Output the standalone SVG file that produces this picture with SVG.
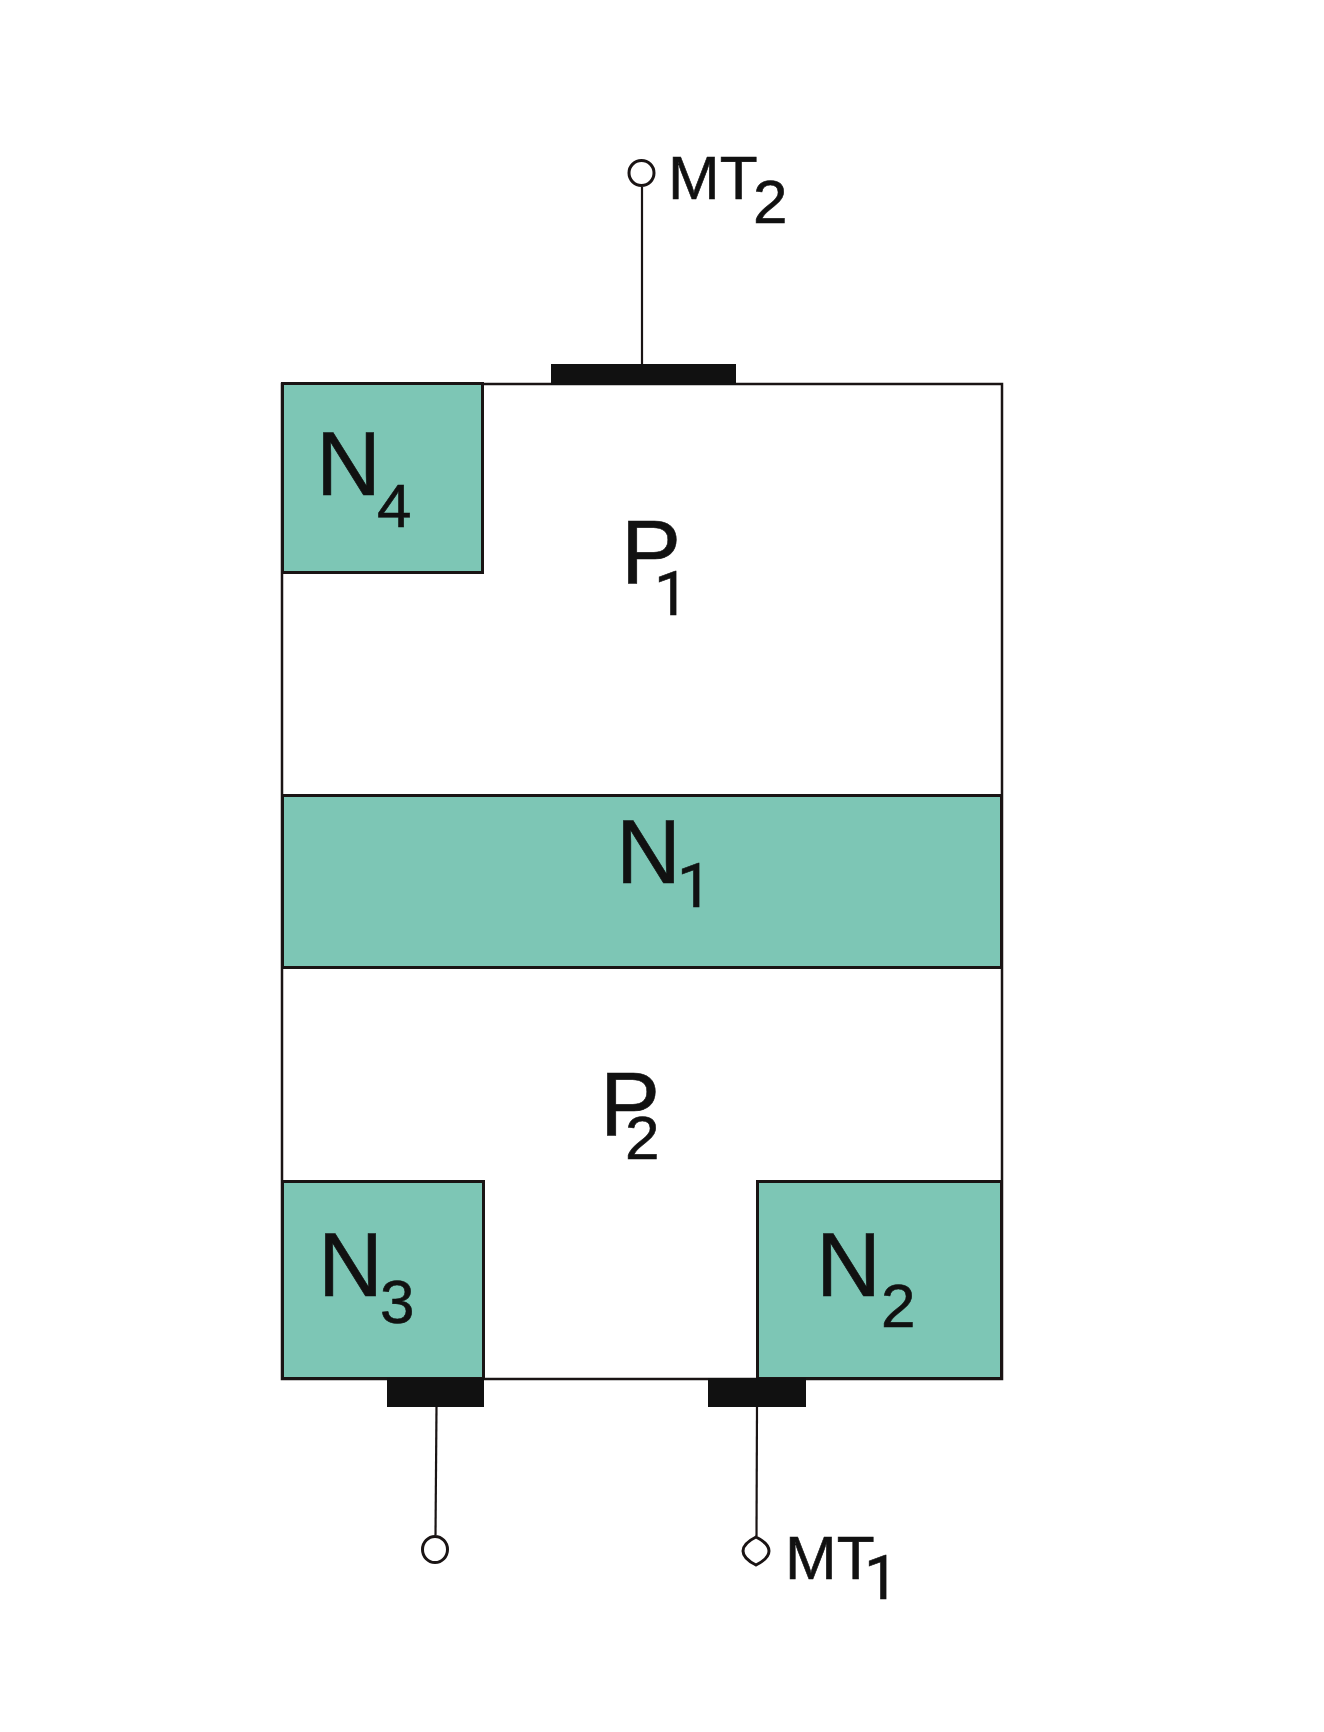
<svg xmlns="http://www.w3.org/2000/svg" width="1324" height="1732" viewBox="0 0 1324 1732">
<style>
.n{fill:#7dc6b5;stroke:#1a1414;stroke-width:3}
.o{fill:none;stroke:#1a1414;stroke-width:2.5}
.pad{fill:#111}
.w{fill:none;stroke:#1a1414;stroke-width:2.200}
.t{fill:#fff;stroke:#1a1414;stroke-width:3}
text{font-family:"Liberation Sans",Arial,sans-serif;fill:#111;stroke:#111;stroke-width:.6}
.b{font-size:90px}
.s{font-size:62px}
.r{font-family:Roboto,"Liberation Sans",sans-serif}
</style>
<rect width="1324" height="1732" fill="#fff"/>
<rect id="body" class="o" x="282" y="384" width="720" height="995"/>
<g id="n1"><rect class="n" x="282.500" y="795.500" width="719" height="172"/><text class="b" x="616" y="883">N</text><text class="s r" x="677" y="907">1</text></g>
<g id="p1"><text class="b" x="621" y="583">P</text><text class="s r" x="654" y="615">1</text></g>
<g id="p2"><text class="b" x="600" y="1135">P</text><text class="s" x="625" y="1159">2</text></g>
<g id="n4"><rect class="n" x="282.500" y="383.500" width="200" height="189"/><text class="b" x="316" y="495">N</text><text class="s" x="377" y="527">4</text></g>
<g id="n3"><rect class="n" x="282.500" y="1181.500" width="201" height="197"/><text class="b" x="318" y="1296">N</text><text class="s" x="380" y="1323">3</text></g>
<g id="n2"><rect class="n" x="757.500" y="1181.500" width="244" height="197"/><text class="b" x="816" y="1296">N</text><text class="s" x="881" y="1327">2</text></g>
<g id="connectors">
<path class="w" d="M642 187V364"/>
<path class="w" d="M436.500 1407L435.500 1535"/>
<path class="w" d="M757 1407L756.500 1536"/>
</g>
<g id="mt2"><rect class="pad" x="551" y="364" width="185" height="21"/><ellipse class="t" cx="641.500" cy="173" rx="12.500" ry="12.500"/><text class="s" x="668" y="199">MT</text><text class="s" x="753" y="223">2</text></g>
<g id="gate"><rect class="pad" x="387" y="1378" width="97" height="29"/><ellipse class="t" cx="435" cy="1549.500" rx="12.500" ry="13"/></g>
<g id="mt1"><rect class="pad" x="708" y="1378" width="98" height="29"/><path class="t" d="M756 1537C764 1541 769 1546 769 1551C769 1556 764 1561 756 1565C748 1561 743 1556 743 1551C743 1546 748 1541 756 1537Z"/><text class="s" x="785" y="1579">MT</text><text class="s r" x="864" y="1599">1</text></g>
</svg>
